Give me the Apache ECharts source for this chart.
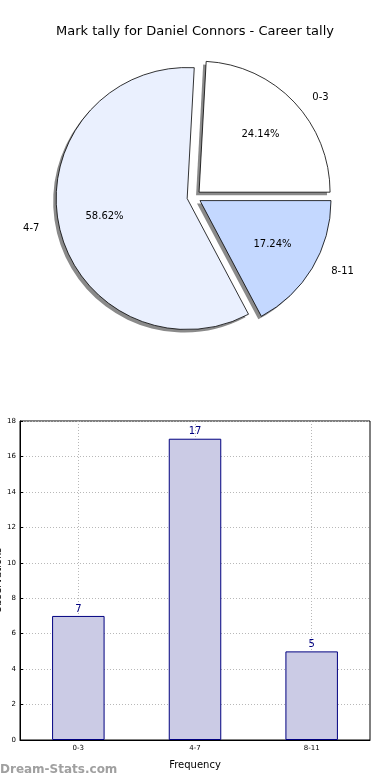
<!DOCTYPE html>
<html><head><meta charset="utf-8">
<script src="https://cdn.jsdelivr.net/npm/echarts@6/dist/echarts.min.js"></script>
<style>html,body{margin:0;padding:0;background:#fff}#c{width:390px;height:780px}</style>
</head><body><div id="c"></div>
<script>
const titleText = 'Mark tally for Daniel Connors - Career tally';
const categories = ['0-3', '4-7', '8-11'];
const tallies = [7, 17, 5];
const pieColors = ['#ffffff', '#eaf0fe', '#c4d8ff'];
const yTicks = { min: 0, max: 18, interval: 2 };
const xName = 'Frequency';
const yName = 'Observations';
const watermark = 'Dream-Stats.com';

const FONT = 'DejaVu Sans';
const R = 131;
const CENTER = [194, 197];
const SHADOW_CENTER = [CENTER[0] - 3, CENTER[1] + 3];
const pieData = categories.map((c, i) => ({ name: c, value: tallies[i], selected: true, itemStyle: { color: pieColors[i] } }));
const shadowData = categories.map((c, i) => ({ name: c, value: tallies[i], selected: true }));
const labelData = categories.map((c, i) => ({ name: c, value: tallies[i] }));
const hidden = { color: 'rgba(0,0,0,0)', borderWidth: 0 };

const chart = echarts.init(document.getElementById('c'), null, { renderer: 'canvas' });
chart.setOption({
  animation: false,
  backgroundColor: '#fff',
  textStyle: { fontFamily: FONT },
  title: { text: titleText, left: 'center', top: 20, textStyle: { fontFamily: FONT, fontSize: 13, fontWeight: 'normal', color: '#000' } },
  graphic: [{ type: 'text', left: 0, top: 764, style: { text: watermark, font: 'bold 12px "DejaVu Sans"', fill: '#a0a0a0' } }],
  grid: { left: 20, right: 20, top: 421, bottom: 40, containLabel: false, outerBoundsMode: 'none', show: true, borderColor: '#000', borderWidth: 1, backgroundColor: 'transparent' },
  xAxis: {
    type: 'category', data: categories,
    name: xName, nameLocation: 'middle', nameGap: 20, nameMoveOverlap: false,
    nameTextStyle: { fontFamily: FONT, fontSize: 10, color: '#000' },
    axisLine: { lineStyle: { color: '#000', width: 1 } },
    axisTick: { alignWithLabel: true, inside: true, length: 3, lineStyle: { color: '#000' } },
    axisLabel: { fontFamily: FONT, fontSize: 7, color: '#000', margin: 5 },
    splitLine: { show: true, alignWithLabel: true, lineStyle: { color: '#b8b8b8', type: [1, 2], width: 1 } }
  },
  yAxis: {
    type: 'value', min: yTicks.min, max: yTicks.max, interval: yTicks.interval,
    name: yName, nameLocation: 'middle', nameGap: 17, nameRotate: 90, nameMoveOverlap: false,
    nameTextStyle: { fontFamily: FONT, fontSize: 10, color: '#000' },
    axisLine: { show: true, lineStyle: { color: '#000', width: 1 } },
    axisTick: { show: true, inside: true, length: 3, lineStyle: { color: '#000' } },
    axisLabel: { fontFamily: FONT, fontSize: 7, color: '#000', margin: 4 },
    splitLine: { show: true, lineStyle: { color: '#b8b8b8', type: [1, 2], width: 1 } }
  },
  series: [
    {
      type: 'pie', center: SHADOW_CENTER, radius: R, startAngle: 0, clockwise: false,
      selectedMode: 'multiple', selectedOffset: 7, silent: true,
      label: { show: false }, labelLine: { show: false },
      itemStyle: { color: '#8a8a8a', borderWidth: 0 },
      emphasis: { disabled: true },
      data: shadowData
    },
    {
      type: 'pie', center: CENTER, radius: R, startAngle: 0, clockwise: false,
      selectedMode: 'multiple', selectedOffset: 7, silent: true,
      label: { show: false }, labelLine: { show: false },
      itemStyle: { borderColor: '#000', borderWidth: 0.8 },
      emphasis: { disabled: true },
      data: pieData
    },
    {
      type: 'pie', center: CENTER, radius: 2 * (0.6 * R + 10), startAngle: 0, clockwise: false,
      silent: true, itemStyle: hidden, emphasis: { disabled: true }, labelLine: { show: false },
      label: { show: true, position: 'inside', formatter: '{d}%', fontFamily: FONT, fontSize: 10, color: '#000' },
      data: labelData
    },
    {
      type: 'pie', center: CENTER, radius: R, startAngle: 0, clockwise: false, avoidLabelOverlap: false,
      silent: true, itemStyle: hidden, emphasis: { disabled: true },
      labelLine: { show: false, length: 14, length2: 8 },
      label: { show: true, position: 'outside', distanceToLabelLine: 5, formatter: '{b}', fontFamily: FONT, fontSize: 10, color: '#000' },
      data: labelData
    },
    {
      type: 'bar', data: tallies, barWidth: '45%',
      itemStyle: { color: '#cbcbe5', borderColor: '#000080', borderWidth: 1 },
      label: { show: true, position: 'top', distance: 2, fontFamily: FONT, fontSize: 10, color: '#000080' },
      emphasis: { disabled: true }
    }
  ]
});
</script></body></html>
